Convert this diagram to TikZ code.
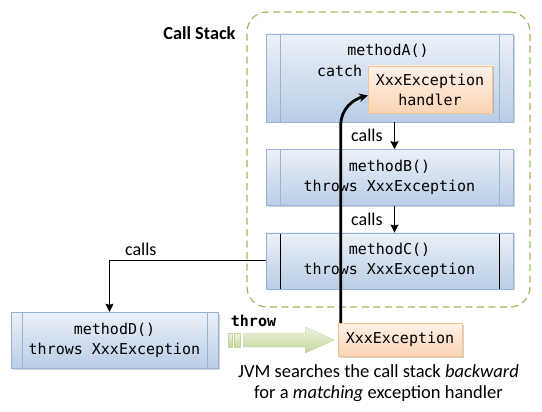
\documentclass[tikz,border=0pt]{standalone}
\usepackage{fontspec}
\setsansfont{Carlito}
\setmonofont{DejaVu Sans Mono}
\usepackage{xcolor}
\usetikzlibrary{arrows, arrows.meta, positioning, shadows}

\definecolor{boxline}{RGB}{149,179,215}
\definecolor{boxtop}{RGB}{236,241,248}
\definecolor{boxbot}{RGB}{185,205,229}
\definecolor{hdline}{RGB}{250,192,144}
\definecolor{hdtop}{RGB}{254,242,233}
\definecolor{hdbot}{RGB}{251,212,180}
\definecolor{stackline}{RGB}{155,187,89}
\definecolor{thrtop}{RGB}{238,243,226}
\definecolor{thrbot}{RGB}{196,215,155}

\tikzset{
    code/.style={font=\ttfamily\fontsize{15}{20}\selectfont, align=center}, % code text
    method/.style={rectangle, draw=boxline, top color=boxtop, bottom color=boxbot, code,
        minimum width=247pt, minimum height=56pt, inner sep=2pt,
        drop shadow={shadow xshift=1.5pt, shadow yshift=-1.5pt, opacity=0.35}},
    bars/.style 2 args={path picture={
        \draw[#2] ([xshift=#1]path picture bounding box.north west) -- ([xshift=#1]path picture bounding box.south west)
                  ([xshift=-#1]path picture bounding box.north east) -- ([xshift=-#1]path picture bounding box.south east);}},
    handler/.style={rectangle, draw=hdline, top color=hdtop, bottom color=hdbot, code,
        minimum width=124pt, inner sep=2pt,
        drop shadow={shadow xshift=1.5pt, shadow yshift=-1.5pt, opacity=0.35}},
    stack/.style={draw=stackline, dashed, dash pattern=on 7pt off 4.5pt, line width=1.2pt, rounded corners=20pt},
    label/.style={font=\sffamily\fontsize{18}{22}\selectfont},
}
\tikzstyle{call} = [line width=1.1pt, -{Stealth[length=8pt, width=8pt, inset=1pt]}]
\tikzstyle{search} = [line width=2.8pt, ->, >=stealth]

\begin{document}
\begin{tikzpicture}[x=1pt, y=-1pt]
    \useasboundingbox (0,0) rectangle (542,412);

    \node[stack, minimum width=283pt, minimum height=295pt] (stack) at (388.5,159.5) {};
    \node[label, font=\sffamily\bfseries\fontsize{18.3}{22}\selectfont, anchor=east] (title) at (239,33) {Call Stack};

    \node[method, minimum height=88pt, bars={14pt}{boxline}] (mA) at (389.5,78) {};
    \node[method, bars={14pt}{boxline}, below=27pt of mA] (mB) {methodB()\\throws XxxException};
    \node[method, bars={14pt}{black}, below=27pt of mB] (mC) {methodC()\\throws XxxException};
    \node[method, minimum width=207pt, bars={11pt}{boxline}] (mD) at (114.5,340) {methodD()\\throws XxxException};

    \node[code] (mAname) at (388,51) {methodA()};
    \node[handler, minimum height=47pt] (hd) at (430,89.5) {XxxException\\handler};
    \node[code, left=2pt of hd.north west, anchor=east, yshift=-5pt] (catch) {catch};

    \node[handler, minimum height=33pt] (ex) at (400,339.5) {XxxException};

    \draw[call] ([xshift=5pt]mA.south) -- ([xshift=5pt]mB.north) node[label, midway, left=8pt] {calls};
    \draw[call] ([xshift=5pt]mB.south) -- ([xshift=5pt]mC.north) node[label, midway, left=8pt] {calls};
    \draw[call] (mC.west) -| ([xshift=-5pt]mD.north) node[label, pos=0.4, above=1pt] {calls};

    % throw
    \node[code, font=\ttfamily\bfseries\fontsize{15}{20}\selectfont] (throw) at (253.5,321) {throw};
    \coordinate (thrs) at ([xshift=10pt]mD.east);
    \filldraw[draw=thrbot, top color=thrtop, bottom color=thrbot]
        (thrs) ++(0,-7) rectangle ++(4,14)
        (thrs) ++(6,-7) rectangle ++(6,14);
    \draw[draw=thrbot, top color=thrtop, bottom color=thrbot]
        (thrs) ++(15,-7) -- ++(62,0) -- ++(0,-6) -- ++(29,13) -- ++(-29,13) -- ++(0,-6) -- ++(-62,0) -- cycle;

    \draw[search] ([xshift=3pt]ex.north west) -- ++(0,-198) to[out=90, in=195] ([yshift=-6pt]hd.west);

    \node[label, font=\sffamily\fontsize{18.5}{21}\selectfont, align=center] (note) at (378.5,383.5) {JVM searches the call stack \textit{backward}\\for a \textit{matching} exception handler};
\end{tikzpicture}
\end{document}
